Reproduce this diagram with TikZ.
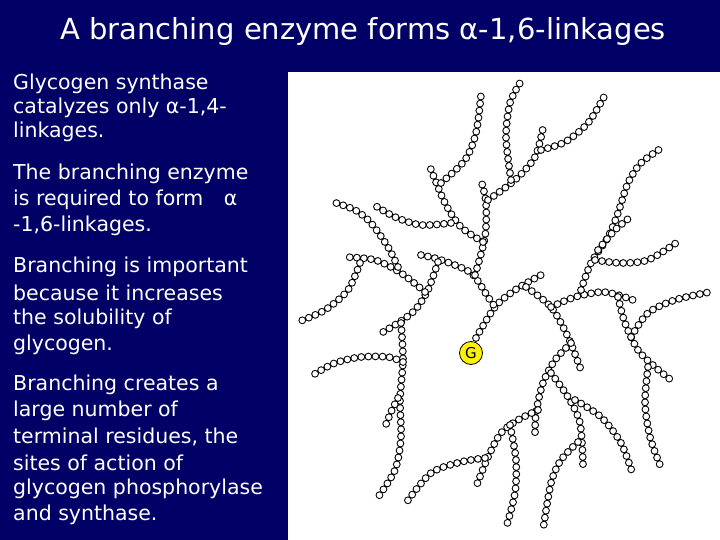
\documentclass[tikz,border=0pt]{standalone}
\usepackage{fontspec}
\setmainfont{DejaVu Sans}
\definecolor{navy}{HTML}{000066}
\tikzset{
  chainline/.style={draw=black, line cap=round, dash pattern=on 0pt off 7.1pt, line width=7.8pt, postaction={draw=white, line width=5.6pt, line cap=round, dash pattern=on 0pt off 7.1pt}},
  txt/.style={anchor=west, text=white, font=\fontsize{20.5}{22}\selectfont, inner sep=0pt}
}
\begin{document}
\begin{tikzpicture}[x=1pt,y=-1pt]
\fill[navy] (0,0) rectangle (720,540);
\useasboundingbox (0,0) rectangle (720,540);
\fill[white] (288,72) rectangle (720,540);
\node[text=white, font=\fontsize{29}{32}\selectfont, inner sep=0pt] (title) at (363,32) {A branching enzyme forms α-1,6-linkages};
\foreach \y/\t [count=\i] in {
 84/Glycogen synthase, 108/{catalyzes only α-1,4-}, 132/linkages.,
 174/The branching enzyme, 200/{is required to form\quad α}, 226/{-1,6-linkages.},
 267/Branching is important, 293/because it increases, 319/the solubility of, 345/glycogen.,
 385/Branching creates a, 411/large number of, 437/{terminal residues, the}, 463/sites of action of, 489/glycogen phosphorylase, 515/and synthase.}
  \node[txt] (t\i) at (13,\y) {\t};
\path[chainline] plot[smooth] coordinates {(476,338) (495,307) (515,290) (541,275)};
\path[chainline] plot[smooth] coordinates {(421,255) (441,260) (471,273) (488,297) (495,307)};
\path[chainline] plot[smooth] coordinates {(475,275) (485,237) (486,203) (481,180)};
\path[chainline] plot[smooth] coordinates {(488,200) (515,180) (535,157) (543,128)};
\path[chainline] plot[smooth] coordinates {(511,180) (506,137) (510,103) (520,83)};
\path[chainline] plot[smooth] coordinates {(541,150) (565,142) (588,123) (605,95)};
\path[chainline] plot[smooth] coordinates {(483,242) (461,227) (445,203) (430,167)};
\path[chainline] plot[smooth] coordinates {(441,183) (465,160) (476,133) (481,95)};
\path[chainline] plot[smooth] coordinates {(451,223) (421,225) (395,217) (371,203)};
\path[chainline] plot[smooth] coordinates {(438,262) (428,290) (415,310) (398,323) (378,335)};
\path[chainline] plot[smooth] coordinates {(401,323) (403,360) (400,400) (401,437) (395,470) (376,500)};
\path[chainline] plot[smooth] coordinates {(398,398) (391,412) (385,427)};
\path[chainline] plot[smooth] coordinates {(403,362) (388,357) (361,357) (335,363) (313,375)};
\path[chainline] plot[smooth] coordinates {(425,292) (401,273) (375,260) (345,257)};
\path[chainline] plot[smooth] coordinates {(360,263) (348,290) (325,310) (298,322)};
\path[chainline] plot[smooth] coordinates {(398,267) (388,247) (371,223) (355,210) (333,202)};
\path[chainline] plot[smooth] coordinates {(526,287) (551,307) (568,337) (581,370)};
\path[chainline] plot[smooth] coordinates {(551,307) (575,297) (601,292) (618,295) (633,300)};
\path[chainline] plot[smooth] coordinates {(581,290) (591,263) (608,237) (618,213) (628,183) (641,163) (663,147)};
\path[chainline] plot[smooth] coordinates {(598,250) (615,230) (633,215)};
\path[chainline] plot[smooth] coordinates {(595,260) (621,263) (648,260) (676,243)};
\path[chainline] plot[smooth] coordinates {(618,297) (625,323) (638,350) (655,367) (671,380)};
\path[chainline] plot[smooth] coordinates {(631,337) (648,313) (675,300) (710,292)};
\path[chainline] plot[smooth] coordinates {(648,367) (645,403) (650,437) (660,465)};
\path[chainline] plot[smooth] coordinates {(571,343) (555,360) (543,383) (536,413) (535,438)};
\path[chainline] plot[smooth] coordinates {(551,373) (568,397) (580,423) (583,465)};
\path[chainline] plot[smooth] coordinates {(538,410) (518,420) (501,433) (488,457) (476,487)};
\path[chainline] plot[smooth] coordinates {(575,400) (601,417) (621,443) (633,475)};
\path[chainline] plot[smooth] coordinates {(578,442) (561,460) (551,483) (543,530)};
\path[chainline] plot[smooth] coordinates {(510,425) (516,460) (515,493) (506,528)};
\path[chainline] plot[smooth] coordinates {(485,458) (461,462) (431,473) (406,503)};
\node[circle, draw=black, fill=yellow, line width=0.8pt, minimum width=23pt, inner sep=0pt, font=\fontsize{15}{15}\selectfont] (G) at (471,353) {G};
\end{tikzpicture}
\end{document}
